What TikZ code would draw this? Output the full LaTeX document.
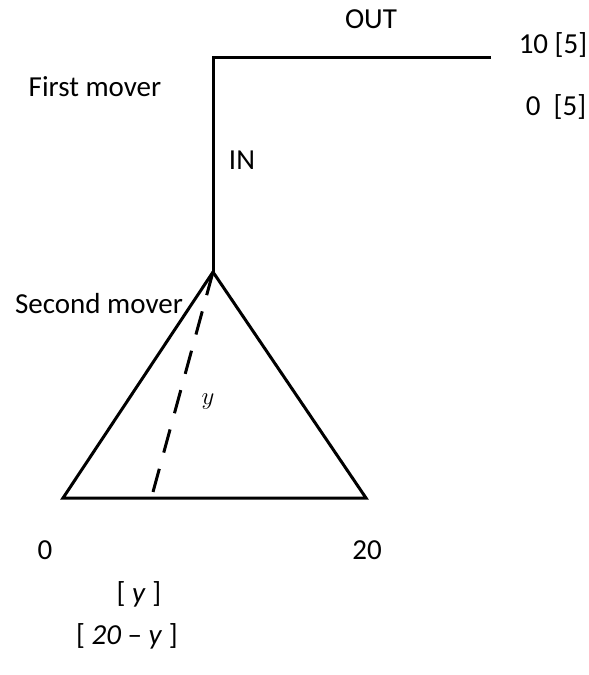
\documentclass[tikz,border=0pt]{standalone}
\usepackage{fontspec}
\setmainfont{Carlito}
\begin{document}
\begin{tikzpicture}[x=1pt,y=-1pt,
  lbl/.style={inner sep=0pt,font=\fontsize{29}{35}\selectfont},
  edge/.style={line width=3pt,line join=miter},
  choice/.style={line width=3pt,dash pattern=on 24pt off 16.8pt}]
\useasboundingbox (0,0) rectangle (589,675);
\coordinate (root) at (213,57);
\coordinate (outend) at (491,57);
\coordinate (apex) at (213,272);
\coordinate (bl) at (63,498);
\coordinate (br) at (366,498);
\coordinate (ychoice) at (153,492);
\draw[edge] (outend) -- (root) -- (apex);
\draw[edge] (apex) -- (bl) -- (br) -- cycle;
\draw[choice] (apex) -- (ychoice);
\node[lbl] (out) at (371,19) {OUT};
\node[lbl] (p1) at (553,45) {10 [5]};
\node[lbl] (p2) at (556,107) {0\ \ [5]};
\node[lbl] (first) at (95,87) {First mover};
\node[lbl] (in) at (242,160) {IN};
\node[lbl] (second) at (99,304) {Second mover};
\node[inner sep=0pt,font=\fontsize{31}{36}\selectfont] (ylab) at (208,402) {$y$};
\node[lbl] (zero) at (45,550) {0};
\node[lbl] (twenty) at (367,550) {20};
\node[lbl] (py) at (139,594) {[ \textit{y} ]};
\node[lbl] (pz) at (127,636) {[ \textit{20} – \textit{y} ]};
\end{tikzpicture}
\end{document}
